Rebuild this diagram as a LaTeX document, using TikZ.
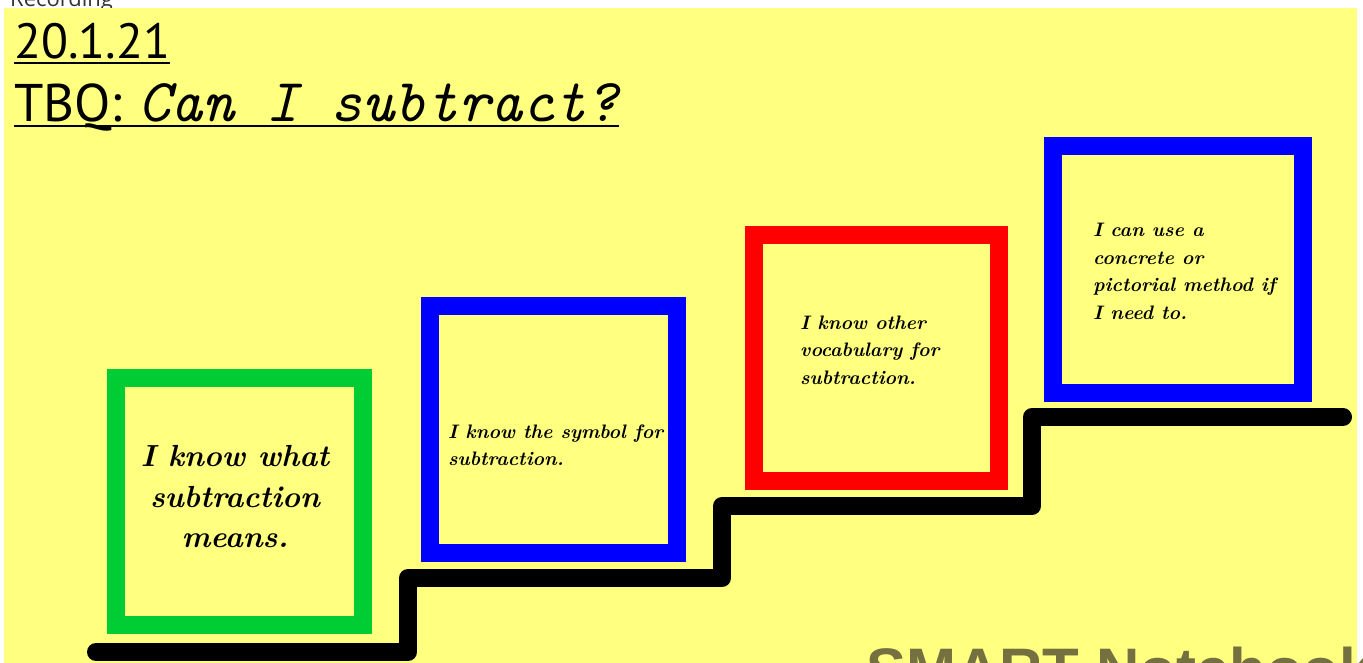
\documentclass[tikz,border=0pt]{standalone}
\usepackage{fontspec}
\newfontfamily\datefont{PT Sans}
\newfontfamily\barfont{Open Sans}
\newfontfamily\logofont{Liberation Sans}
\usetikzlibrary{positioning}
\definecolor{pageyellow}{RGB}{255,255,128}
\definecolor{stepgreen}{RGB}{0,204,51}
\definecolor{logogrey}{RGB}{117,112,64}

\tikzset{
  goal/.style={draw=#1,line width=18,inner sep=0,minimum width=247,minimum height=247},
  goaltext/.style={inner sep=0,align=left,anchor=west,
    font=\fontsize{19.5}{27.5}\selectfont\bfseries\itshape},
  titletext/.style={inner sep=0,anchor=base west},
  rule/.style={line width=2.6}
}

\begin{document}
\begin{tikzpicture}[x=1pt,y=-1pt,
  stair/.style={line width=18,line cap=round,line join=round}]
  \useasboundingbox (0,0) rectangle (1363,663);
  \fill[white] (0,0) rectangle (1363,663);

  \node[titletext,text=black!80] (rec) at (10,7)
    {\barfont\fontsize{22}{26}\selectfont Recording};
  \fill[pageyellow] (4,8) rectangle (1357,663);

  % title
  \node[titletext] (date) at (14,59) {\datefont\fontsize{49.5}{60}\selectfont 20.1.21};
  \node[titletext] (tbq) at (14,122)
    {{\datefont\fontsize{53}{60}\selectfont TBQ:}\hspace{16pt}%
     {\ttfamily\itshape\fontsize{61}{66}\selectfont Can I subtract?}};
  \draw[rule] ([yshift=-4]date.base west) -- ([yshift=-4]date.base east);
  \draw[rule] ([yshift=-4]tbq.base west) -- ([yshift=-4]tbq.base east);

  % the steps
  \draw[stair] (96,652) -- (408,652) -- (408,578) -- (722,578) -- (722,506)
    -- (1032,506) -- (1032,417) -- (1343,417);

  \node[goal=stepgreen] (g1) at (239.5,501.5) {};
  \node[goal=blue] (g2) at (553.5,429.5) {};
  \node[goal=red,minimum width=245,minimum height=246] (g3) at (876.5,358) {};
  \node[goal=blue,minimum width=250] (g4) at (1178,269.5) {};

  \node[goaltext,align=center,anchor=center,
    font=\fontsize{30.5}{40.5}\selectfont\bfseries\itshape] (t1) at (235,497)
    {I know what\\subtraction\\means.};
  \node[goaltext] (t2) at (448,445) {I know the symbol for\\subtraction.};
  \node[goaltext] (t3) at (800,350) {I know other\\vocabulary for\\subtraction.};
  \node[goaltext] (t4) at (1093,271.5)
    {I can use a\\concrete or\\pictorial method if\\I need to.};

  \node[titletext,text=logogrey] (logo) at (866,690)
    {\logofont\bfseries\fontsize{60}{66}\selectfont SMART Notebook};
\end{tikzpicture}
\end{document}
